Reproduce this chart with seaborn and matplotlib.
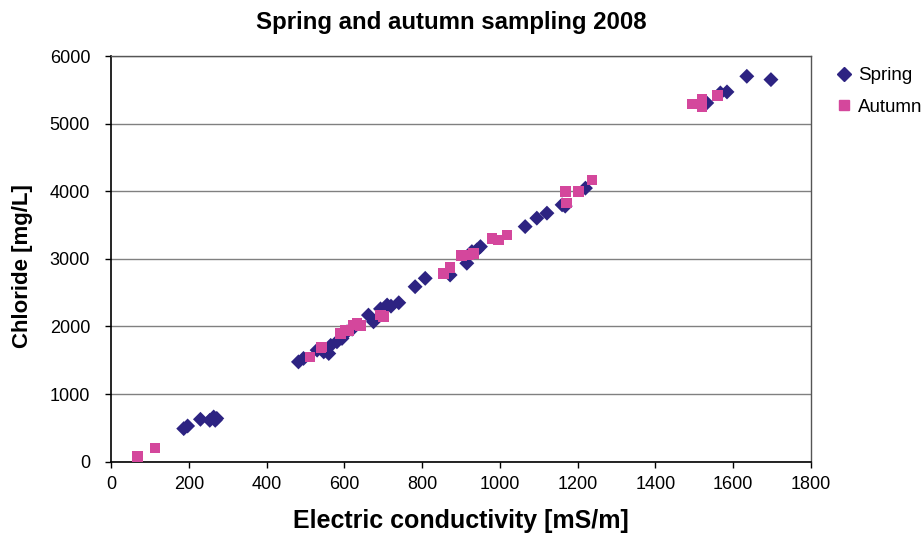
import matplotlib
matplotlib.use("Agg")
import matplotlib.pyplot as plt
import seaborn as sns
import pandas as pd
from matplotlib.lines import Line2D

spring_ec = [187, 197, 230, 254, 264, 268, 272,
             482, 495, 530, 547, 560, 565, 581, 594, 607, 620, 662, 675, 693, 710, 720, 740,
             782, 808, 872, 915, 928, 941, 950, 1065, 1095, 1121, 1160, 1168, 1220,
             1532, 1567, 1584, 1635, 1697]
spring_cl = [489, 528, 627, 612, 661, 612, 640,
             1476, 1527, 1650, 1624, 1600, 1720, 1773, 1823, 1921, 1960, 2168, 2069, 2260, 2317, 2300, 2351,
             2588, 2712, 2761, 2935, 3107, 3132, 3181, 3477, 3602, 3676, 3799, 3780, 4046,
             5306, 5454, 5469, 5700, 5651]
autumn_ec = [68, 113, 512, 540, 542, 590, 603, 612, 624, 633, 641, 693, 700,
             855, 872, 902, 919, 932, 980, 997, 1018, 1168, 1172, 1202, 1237,
             1494, 1520, 1520, 1560]
autumn_cl = [78, 202, 1550, 1680, 1699, 1897, 1946, 1930, 2020, 2045, 2010, 2168, 2150,
             2786, 2869, 3047, 3058, 3083, 3305, 3280, 3354, 3996, 3824, 3996, 4169,
             5291, 5355, 5256, 5414]
series_names = ["Spring", "Autumn"]
x_ticks = list(range(0, 1801, 200))
y_ticks = list(range(0, 6001, 1000))

df = pd.concat([
    pd.DataFrame({"ec": spring_ec, "cl": spring_cl, "Season": series_names[0]}),
    pd.DataFrame({"ec": autumn_ec, "cl": autumn_cl, "Season": series_names[1]}),
], ignore_index=True)

sns.set_theme(style="white")
plt.rcParams["font.family"] = ["Liberation Sans", "DejaVu Sans"]
plt.rcParams["text.color"] = "#000000"
plt.rcParams["axes.labelcolor"] = "#000000"

fig = plt.figure(figsize=(9.22, 5.33), dpi=100)
ax = fig.add_axes([0.1204, 0.1338, 0.7592, 0.7611])

colors = {"Spring": "#2D2382", "Autumn": "#D4479C"}
sns.scatterplot(data=df, x="ec", y="cl", hue="Season", style="Season",
                markers={"Spring": "D", "Autumn": "s"}, palette=colors,
                s=58, linewidth=0, ax=ax, legend=False, zorder=3)

ax.set_xlim(0, 1800)
ax.set_ylim(0, 6000)
ax.set_xticks(x_ticks)
ax.set_yticks(y_ticks)
ax.yaxis.grid(True, color="#808080", linewidth=1.0)
ax.set_axisbelow(True)
for side in ["left", "bottom"]:
    ax.spines[side].set_color("#000000")
    ax.spines[side].set_linewidth(1.2)
for side in ["top", "right"]:
    ax.spines[side].set_color("#555555")
    ax.spines[side].set_linewidth(1.0)
ax.tick_params(axis="both", direction="out", length=4.5, width=1, color="#000000",
               labelsize=13, labelcolor="#000000", left=True, bottom=True)
ax.tick_params(axis="y", pad=10.5)
ax.tick_params(axis="x", pad=6)

ax.set_xlabel("Electric conductivity [mS/m]", fontsize=18, fontweight="bold")
ax.set_ylabel("Chloride [mg/L]", fontsize=16, fontweight="bold")
ax.xaxis.set_label_coords(0.5, -0.1465)
ax.xaxis.label.set_va("center")
ax.yaxis.set_label_coords(-0.127, 0.482)
ax.yaxis.label.set_va("center")
fig.suptitle("Spring and autumn sampling 2008", x=0.49, y=0.958, va="center",
             fontsize=17.3, fontweight="bold")

handles = [Line2D([], [], marker="D", color=colors["Spring"], linestyle="", markersize=7),
           Line2D([], [], marker="s", color=colors["Autumn"], linestyle="", markersize=7)]
fig.legend(handles, series_names, loc="upper left", bbox_to_anchor=(0.897, 0.888),
           frameon=False, fontsize=13.5, handletextpad=0.25, labelspacing=0.75,
           handlelength=1.0, borderaxespad=0)

fig.savefig("out.png", dpi=100)
